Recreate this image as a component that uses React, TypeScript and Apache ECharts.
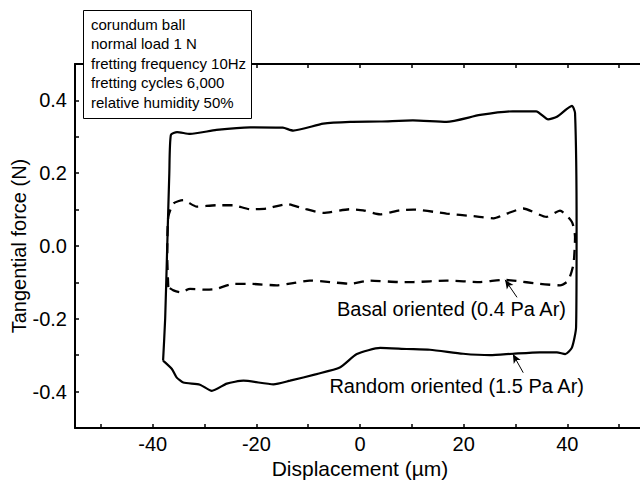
import React, { useEffect, useRef } from "react";
import * as echarts from "echarts";

const FONT = "'Liberation Sans', Arial, Helvetica, sans-serif";

// Random oriented (1.5 Pa Ar) loop, solid
const randomX = [-38.0, -37.6, -37.2, -36.8, -36.5, -35.3, -32.8, -27.7, -21.2, -14.9, -12.9, -7.1, -1.9, 3.9, 10.2, 16.7, 23.2, 29.5, 34.0, 36.3, 38.0, 40.9, 41.5, 41.8, 41.7, 40.9, 39.6, 38.0, 34.7, 29.5, 25.1, 19.9, 13.5, 9.0, 3.9, -0.6, -3.9, -8.4, -13.5, -16.7, -22.5, -25.7, -28.6, -30.9, -34.1, -35.4, -36.3, -38.0];
const randomY = [-0.315, -0.2, 0.0, 0.2, 0.305, 0.313, 0.308, 0.319, 0.326, 0.325, 0.317, 0.336, 0.341, 0.342, 0.345, 0.341, 0.36, 0.37, 0.37, 0.348, 0.355, 0.385, 0.365, 0.05, -0.223, -0.279, -0.297, -0.292, -0.292, -0.296, -0.3, -0.296, -0.285, -0.283, -0.28, -0.297, -0.334, -0.352, -0.37, -0.38, -0.37, -0.378, -0.398, -0.381, -0.375, -0.361, -0.338, -0.315];

// Basal oriented (0.4 Pa Ar) loop, dashed
const basalX = [-37.0, -37.2, -37.0, -36.0, -34.1, -31.5, -27.7, -24.5, -21.2, -18.0, -14.1, -10.9, -7.1, -1.9, 0.6, 3.9, 7.7, 10.3, 16.7, 21.9, 25.8, 28.3, 31.5, 36.0, 38.6, 40.9, 41.5, 41.2, 40.2, 38.6, 34.7, 29.6, 27.7, 23.2, 16.7, 10.3, 7.7, 1.9, -1.9, -5.8, -9.7, -12.9, -16.1, -21.2, -24.5, -27.7, -29.6, -32.8, -34.7, -36.0, -37.0];
const basalY = [-0.113, -0.03, 0.08, 0.117, 0.126, 0.108, 0.112, 0.112, 0.101, 0.103, 0.115, 0.103, 0.091, 0.101, 0.098, 0.087, 0.098, 0.1, 0.089, 0.082, 0.076, 0.089, 0.103, 0.08, 0.097, 0.066, 0.025, -0.049, -0.095, -0.108, -0.104, -0.095, -0.093, -0.099, -0.095, -0.099, -0.099, -0.095, -0.104, -0.099, -0.095, -0.102, -0.108, -0.104, -0.104, -0.118, -0.12, -0.118, -0.127, -0.122, -0.113];

// Arrows (tail -> head) in data coordinates
const basalArrow = [[30.3, -0.141], [28.0, -0.093]];
const randomArrow = [[31.5, -0.348], [29.5, -0.297]];

const xTickLabels = [-40, -20, 0, 20, 40];
const xTicks = [-50, -40, -30, -20, -10, 0, 10, 20, 30, 40, 50];
const yTickLabels = [-0.4, -0.2, 0, 0.2, 0.4];
const yTicks = [-0.4, -0.3, -0.2, -0.1, 0, 0.1, 0.2, 0.3, 0.4];

const infoLines = [
  "corundum ball",
  "normal load 1 N",
  "fretting frequency 10Hz",
  "fretting cycles 6,000",
  "relative humidity 50%",
];

const basalLabel = "Basal oriented (0.4 Pa Ar)";
const randomLabel = "Random oriented (1.5 Pa Ar)";

export default function App() {
  const ref = useRef<HTMLDivElement>(null);
  useEffect(() => {
    if (!ref.current) return;
    const chart = echarts.init(ref.current, null, { renderer: "svg" });
    const zip = (xs: number[], ys: number[]) => xs.map((x, i) => [x, ys[i]]);
    const arrowStyle = {
      silent: true,
      symbol: ["none", "arrow"],
      symbolSize: [6, 9],
      lineStyle: { color: "#000", width: 1, type: "solid" },
      label: { show: false },
      emphasis: { disabled: true },
    };
    const tickStyle = { inside: true, length: 4, lineStyle: { color: "#000", width: 1.5 } };
    chart.setOption({
      animation: false,
      backgroundColor: "#fff",
      grid: { left: 75, top: 64, width: 570, height: 364, containLabel: false, outerBoundsMode: "none" },
      xAxis: [
        {
          type: "value",
          min: -55,
          max: 55,
          name: "Displacement (\u00b5m)",
          nameLocation: "middle",
          nameGap: 30,
          nameMoveOverlap: false,
          nameTextStyle: { fontFamily: FONT, fontSize: 21, color: "#000" },
          axisLine: { show: true, onZero: false, lineStyle: { color: "#000", width: 2 } },
          axisTick: { ...tickStyle, customValues: xTicks },
          axisLabel: { customValues: xTickLabels, fontFamily: FONT, fontSize: 20, color: "#000", margin: 6 },
          splitLine: { show: false },
        },
        {
          type: "value",
          position: "top",
          min: -55,
          max: 55,
          axisLine: { show: true, onZero: false, lineStyle: { color: "#000", width: 2 } },
          axisTick: { ...tickStyle, customValues: xTicks },
          axisLabel: { show: false },
          splitLine: { show: false },
        },
      ],
      yAxis: {
        type: "value",
        min: -0.5,
        max: 0.5,
        name: "Tangential force (N)",
        nameLocation: "middle",
        nameGap: 46,
        nameMoveOverlap: false,
        nameRotate: 90,
        nameTextStyle: { fontFamily: FONT, fontSize: 20, color: "#000" },
        axisLine: { show: true, onZero: false, lineStyle: { color: "#000", width: 2 } },
        axisTick: { ...tickStyle, customValues: yTicks },
        axisLabel: {
          customValues: yTickLabels,
          fontFamily: FONT,
          fontSize: 20,
          color: "#000",
          margin: 8,
          formatter: (v: number) => v.toFixed(1),
        },
        splitLine: { show: false },
      },
      series: [
        {
          type: "line",
          data: zip(randomX, randomY),
          showSymbol: false,
          smooth: 0.2,
          lineStyle: { color: "#000", width: 2.2 },
          markLine: { ...arrowStyle, data: [[{ coord: randomArrow[0] }, { coord: randomArrow[1] }]] },
        },
        {
          type: "line",
          data: zip(basalX, basalY),
          showSymbol: false,
          smooth: 0.2,
          lineStyle: { color: "#000", width: 2.3, type: [10, 7] },
          markLine: { ...arrowStyle, data: [[{ coord: basalArrow[0] }, { coord: basalArrow[1] }]] },
        },
      ],
      graphic: [
        {
          type: "rect",
          shape: { x: 83.5, y: 10.5, width: 168, height: 108 },
          style: { fill: "#fff", stroke: "#000", lineWidth: 1 },
          z: 100,
        },
        ...infoLines.map((t, i) => ({
          type: "text",
          x: 91,
          y: 24 + i * 19.5,
          z: 101,
          style: { text: t, fontFamily: FONT, fontSize: 15, fill: "#000", verticalAlign: "middle" },
        })),
        {
          type: "text",
          x: 566,
          y: 309,
          z: 101,
          style: { text: basalLabel, fontFamily: FONT, fontSize: 20, fill: "#000", align: "right", verticalAlign: "middle" },
        },
        {
          type: "text",
          x: 584,
          y: 386,
          z: 101,
          style: { text: randomLabel, fontFamily: FONT, fontSize: 20, fill: "#000", align: "right", verticalAlign: "middle" },
        },
      ],
    });
    return () => chart.dispose();
  }, []);
  return (
    <div
      ref={ref}
      style={{ position: "absolute", left: 0, top: 0, width: 640, height: 484, overflow: "hidden" }}
    />
  );
}
